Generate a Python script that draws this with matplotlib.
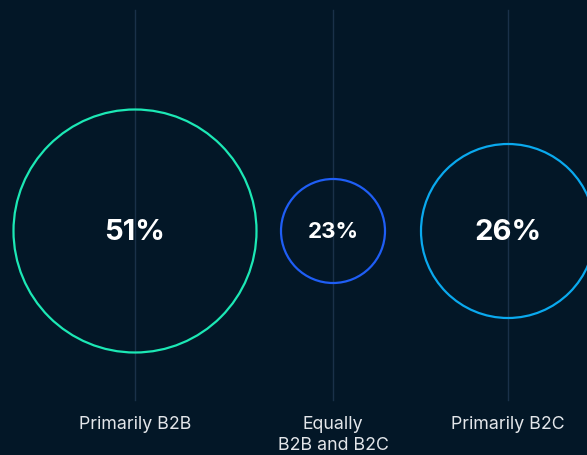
import matplotlib
matplotlib.use('Agg')
import matplotlib.pyplot as plt
from matplotlib.patches import Circle

# data
categories = ['Primarily B2B', 'Equally\nB2B and B2C', 'Primarily B2C']
values = [51, 23, 26]

# styling
xpos = [135, 333, 508]
radii = [121.5, 52, 87]
colors = ['#1ce8b5', '#1f5ef5', '#0aa9ee']
pct_size = [21, 16, 21]
bg = '#031727'
linecol = '#1a3149'

fig = plt.figure(figsize=(5.87, 4.55), dpi=100)
fig.patch.set_facecolor(bg)
ax = fig.add_axes([0, 0, 1, 1])
ax.set_facecolor(bg)
ax.set_xlim(0, 587)
ax.set_ylim(455, 0)
ax.axis('off')

cy = 231
for x, v, r, c, fs, lab in zip(xpos, values, radii, colors, pct_size, categories):
    ax.plot([x, x], [10, 400], color=linecol, lw=1.0, zorder=1)
    ax.add_patch(Circle((x, cy), r, fill=False, edgecolor=c, lw=1.6, zorder=2))
    ax.text(x, cy + 1, '%d%%' % v, color='white', fontsize=fs, fontweight='bold',
            family='Inter', ha='center', va='center', zorder=3)
    ax.text(x, 416, lab, color='#e3e6ea', fontsize=12.8, family='Inter',
            ha='center', va='top', linespacing=1.3)

plt.savefig('out.png', dpi=100, facecolor=bg)
